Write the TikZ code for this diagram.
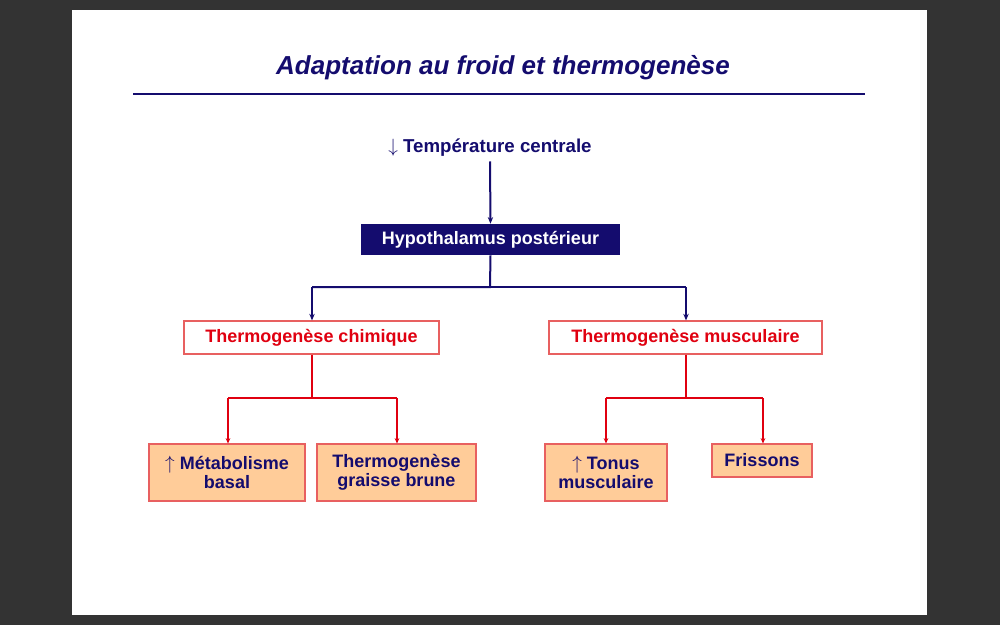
\documentclass[tikz,border=0pt]{standalone}
\usepackage{fontspec}
\setmainfont{Liberation Sans}
\usetikzlibrary{arrows.meta}
\definecolor{navy}{HTML}{140C6E}
\definecolor{rd}{HTML}{E00010}
\definecolor{bx}{HTML}{E86060}
\definecolor{orf}{HTML}{FFCC99}
\begin{document}
\begin{tikzpicture}[x=0.75pt,y=-0.75pt,
  bl/.style={draw=navy,line width=1.5pt,-{Stealth[length=5pt,width=4pt]}},
  rl/.style={draw=rd,line width=1pt,-{Stealth[length=4pt,width=3.5pt]}},
  rbox/.style={draw=bx,fill=white,line width=0.8pt,text=rd,font=\bfseries\fontsize{13.5}{16}\selectfont,inner sep=0pt},
  obox/.style={draw=bx,fill=orf,line width=0.8pt,text=navy,font=\bfseries\fontsize{13.5}{14.5}\selectfont,inner sep=0pt,align=center}]
\fill[black!80] (0,0) rectangle (1000,625);
\fill[white] (72,10) rectangle (927,615);
\node[text=navy,font=\bfseries\itshape\fontsize{19.5}{22}\selectfont] (title) at (503,68) {Adaptation au froid et thermogenèse};
\draw[navy,line width=2.2pt] (133,94) -- (865,94);
\node[text=navy,font=\bfseries\fontsize{14}{16}\selectfont] (temp) at (490,148) {$\downarrow$ Température centrale};
\node[fill=navy,text=white,font=\bfseries\fontsize{13.5}{16}\selectfont,minimum width=259*0.75pt,minimum height=31*0.75pt,inner sep=0pt] (hyp) at (490.5,239.5) {Hypothalamus postérieur};
\node[rbox,minimum width=255*0.75pt,minimum height=33*0.75pt] (chim) at (311.5,337.5) {Thermogenèse chimique};
\node[rbox,minimum width=273*0.75pt,minimum height=33*0.75pt] (musc) at (685.5,337.5) {Thermogenèse musculaire};
\node[obox,minimum width=156*0.75pt,minimum height=57*0.75pt] (meta) at (227,472.5) {$\uparrow$ Métabolisme\\basal};
\node[obox,minimum width=159*0.75pt,minimum height=57*0.75pt] (brune) at (396.5,472.5) {Thermogenèse\\graisse brune};
\node[obox,minimum width=122*0.75pt,minimum height=57*0.75pt] (tonus) at (606,472.5) {$\uparrow$ Tonus\\musculaire};
\node[obox,minimum width=100*0.75pt,minimum height=33*0.75pt] (fris) at (762,460.5) {Frissons};
\draw[bl] (temp.south) -- (hyp.north);
\draw[navy,line width=1.5pt] (hyp.south) -- (490,287) -- (312,287);
\draw[navy,line width=1.5pt] (490,287) -- (686,287);
\draw[bl] (312,287) -- (chim.north -| 312,0);
\draw[bl] (686,287) -- (musc.north -| 686,0);
\draw[rd,line width=1pt] (chim.south -| 312,0) -- (312,398) -- (228,398);
\draw[rd,line width=1pt] (312,398) -- (397,398);
\draw[rl] (228,398) -- (meta.north -| 228,0);
\draw[rl] (397,398) -- (brune.north -| 397,0);
\draw[rd,line width=1pt] (musc.south -| 686,0) -- (686,398) -- (606,398);
\draw[rd,line width=1pt] (686,398) -- (763,398);
\draw[rl] (606,398) -- (tonus.north);
\draw[rl] (763,398) -- (fris.north -| 763,0);
\end{tikzpicture}
\end{document}
